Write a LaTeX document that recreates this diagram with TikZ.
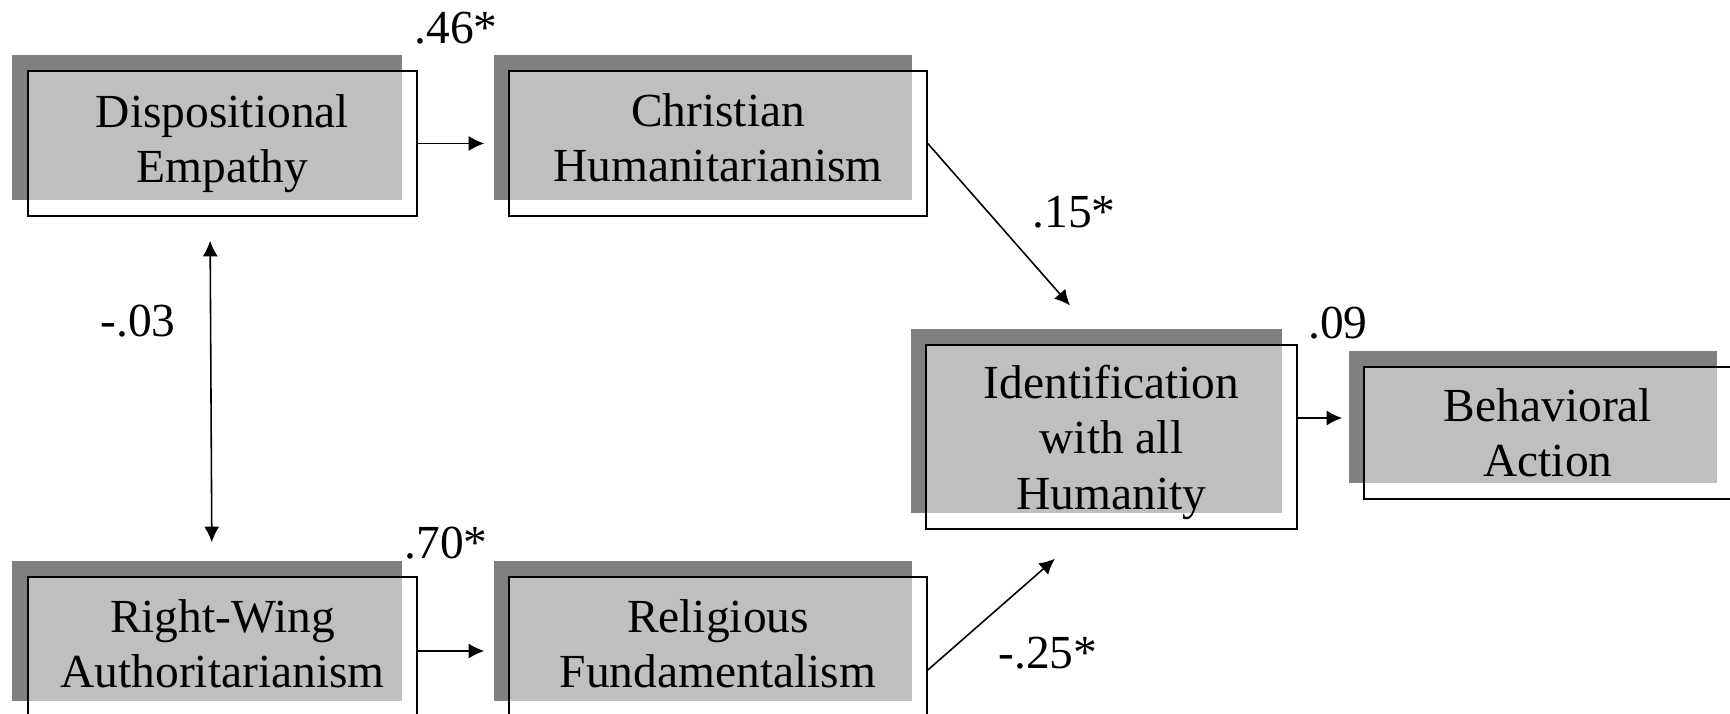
\documentclass[tikz,border=0pt]{standalone}
\usepackage{fontspec}
\setmainfont{Liberation Serif}
\usetikzlibrary{shadows, arrows.meta}

\tikzset{
  varbox/.style={draw, line width=0.9pt, fill=white, align=center, inner sep=0pt,
    font=\fontsize{27}{31.5}\selectfont,
    drop shadow={shadow xshift=-3.1mm, shadow yshift=3.2mm, fill=black!50, opacity=1},
    path picture={\fill[black!25]
      ([xshift=-3.1mm,yshift=3.2mm]path picture bounding box.north west) rectangle
      ([xshift=-3.1mm,yshift=3.2mm]path picture bounding box.south east);}},
  coef/.style={font=\fontsize{27}{31.5}\selectfont, inner sep=0pt},
  link/.style={line width=0.9pt}
}

\begin{document}
\begin{tikzpicture}[x=0.2mm, y=-0.2mm, >={Latex[length=3.1mm,width=3mm]}]
\useasboundingbox (0,0) rectangle (1730,714);

% variables
\node[varbox, minimum width=77.8mm, minimum height=29mm] (dispo) at (222.5,143.5) {Dispositional\\Empathy};
\node[varbox, minimum width=83.6mm, minimum height=29mm, text depth=6.5pt] (chris) at (718,143.5) {Christian\\Humanitarianism};
\node[varbox, minimum width=74.2mm, minimum height=36.8mm, text height=88pt, text depth=6pt] (ident) at (1111.5,437) {Identification\\with all\\Humanity};
\node[varbox, minimum width=73.6mm, minimum height=26.4mm] (behav) at (1548,433) {Behavioral\\Action};
\node[varbox, minimum width=77.8mm, minimum height=28mm, text depth=4pt] (rwa) at (222.5,647) {Right-Wing\\Authoritarianism};
\node[varbox, minimum width=83.6mm, minimum height=28mm, text depth=4pt] (relig) at (718,647) {Religious\\Fundamentalism};

% paths
\draw[link, ->, shorten >=4.8mm] (dispo.east) -- (chris.west);
\draw[link, ->, shorten >=10.3mm] (chris.east) -- ([xshift=-1.5mm]ident.north);
\draw[link, ->, shorten >=8.8mm] ([yshift=-4.6mm]relig.east) -- ([xshift=-4.7mm]ident.south);
\draw[link, ->, shorten >=4.2mm] ([yshift=3.8mm]ident.east) -- ([yshift=3.8mm]ident.east -| behav.west);
\draw[link, ->, shorten >=4.8mm] ([yshift=-0.8mm]rwa.east) -- ([yshift=-0.8mm]rwa.east -| relig.west);
\draw[link, <->, shorten <=4.8mm, shorten >=6.8mm] ([xshift=-2.5mm]dispo.south) -- ([xshift=-2.1mm]rwa.north);

% coefficients
\node[coef] (c46) at (456,28) {.46*};
\node[coef] (c15) at (1074,212) {.15*};
\node[coef] (c03) at (138,321) {-.03};
\node[coef] (c09) at (1338,323) {.09};
\node[coef] (c70) at (446,543) {.70*};
\node[coef] (c25) at (1048,653) {-.25*};
\end{tikzpicture}
\end{document}
